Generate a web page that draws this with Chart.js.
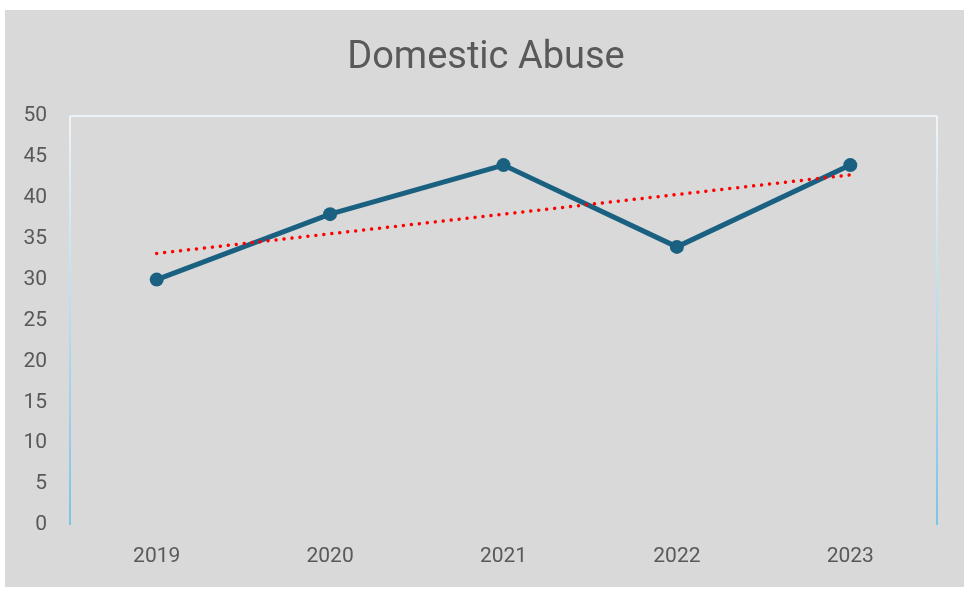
<!DOCTYPE html>
<html>
<head>
<meta charset="utf-8">
<script src="https://cdn.jsdelivr.net/npm/chart.js@4.4.0/dist/chart.umd.min.js"></script>
<style>
  html, body { margin: 0; padding: 0; background: #ffffff; }
  #wrap { width: 964px; height: 592px; position: relative; }
</style>
</head>
<body>
<div id="wrap"><canvas id="abuseChart"></canvas></div>
<script>
// Data
const years = ['2019', '2020', '2021', '2022', '2023'];
const cases = [30, 38, 44, 34, 44];
const trend = [33.2, 35.6, 38, 40.4, 42.8];
const yTicks = [0, 5, 10, 15, 20, 25, 30, 35, 40, 45, 50];
const chartTitle = 'Domestic Abuse';

const textGrey = '#595959';

// gray chart background, title and plot frame (top line, fading side lines)
const framePlugin = {
  id: 'frame',
  beforeDraw(chart) {
    const { ctx } = chart;
    ctx.save();
    ctx.fillStyle = '#ffffff';
    ctx.fillRect(0, 0, chart.width, chart.height);
    ctx.fillStyle = '#d9d9d9';
    ctx.fillRect(5, 10, chart.width - 5, 577);
    ctx.fillStyle = textGrey;
    ctx.font = '38px Roboto';
    ctx.textAlign = 'center';
    ctx.textBaseline = 'middle';
    ctx.fillText(chartTitle, 486, 58);
    ctx.restore();
  },
  beforeDatasetsDraw(chart) {
    const { ctx, chartArea: a } = chart;
    ctx.save();
    ctx.lineWidth = 2;
    ctx.strokeStyle = '#eaf1f7';
    ctx.beginPath();
    ctx.moveTo(a.left, a.top);
    ctx.lineTo(a.right, a.top);
    ctx.stroke();
    const grad = ctx.createLinearGradient(0, a.top, 0, a.bottom);
    grad.addColorStop(0, '#eef4f9');
    grad.addColorStop(0.5, '#b8dcef');
    grad.addColorStop(1, '#7cc3e6');
    ctx.strokeStyle = grad;
    [a.left, a.right].forEach(x => {
      ctx.beginPath();
      ctx.moveTo(x, a.top);
      ctx.lineTo(x, a.bottom);
      ctx.stroke();
    });
    ctx.restore();
  }
};

new Chart(document.getElementById('abuseChart'), {
  type: 'line',
  data: {
    labels: years,
    datasets: [
      {
        label: chartTitle,
        data: cases,
        borderColor: '#1a6081',
        backgroundColor: '#1a6081',
        borderWidth: 5,
        pointRadius: 7,
        pointHoverRadius: 7,
        pointBorderWidth: 0,
        tension: 0,
        order: 1
      },
      {
        label: 'Trend',
        data: trend,
        borderColor: '#ff0000',
        borderWidth: 3.5,
        borderDash: [0.01, 8],
        borderCapStyle: 'round',
        pointRadius: 0,
        tension: 0,
        order: 0
      }
    ]
  },
  options: {
    responsive: true,
    maintainAspectRatio: false,
    animation: false,
    layout: {
      padding: { left: 5, right: 27, top: 116, bottom: 5 }
    },
    plugins: {
      legend: { display: false },
      tooltip: { enabled: false },
      title: { display: false }
    },
    scales: {
      x: {
        offset: true,
        grid: { display: false },
        border: { display: false },
        ticks: {
          color: textGrey,
          font: { family: 'Roboto', size: 21 },
          padding: 11
        },
        afterFit(scale) { scale.height = 62; }
      },
      y: {
        min: 0,
        max: 50,
        grid: { display: false, drawTicks: false },
        border: { display: false },
        afterBuildTicks(scale) { scale.ticks = yTicks.map(v => ({ value: v })); },
        ticks: {
          color: textGrey,
          font: { family: 'Roboto', size: 21 },
          padding: 23
        },
        afterFit(scale) { scale.width = 65; }
      }
    }
  },
  plugins: [framePlugin]
});
</script>
</body>
</html>
